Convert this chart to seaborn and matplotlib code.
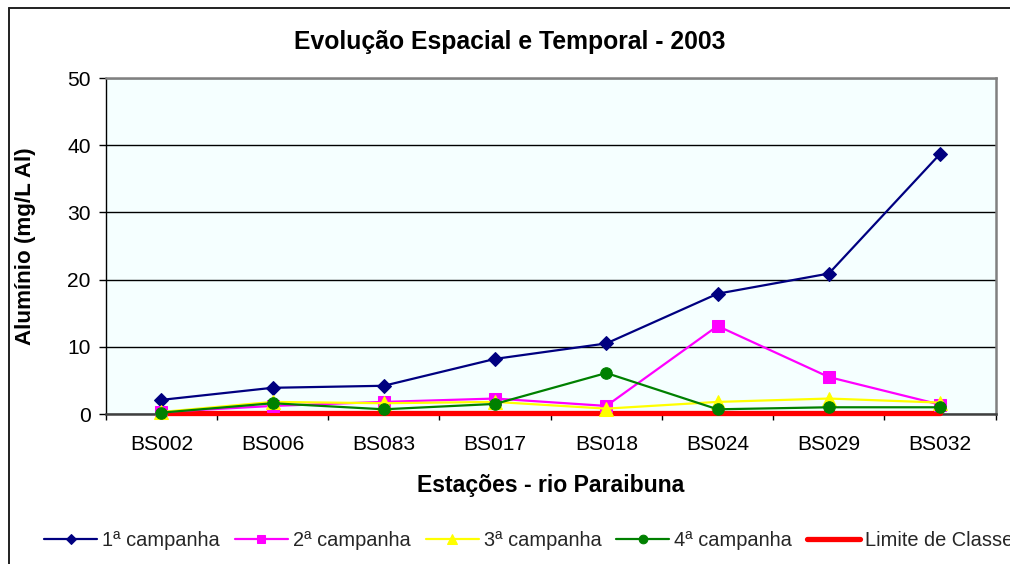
import numpy as np
import pandas as pd
import matplotlib
matplotlib.use("Agg")
import matplotlib.pyplot as plt
from matplotlib.lines import Line2D
import seaborn as sns

# Estações de amostragem ao longo do rio Paraibuna
estacoes = ["BS002", "BS006", "BS083", "BS017", "BS018", "BS024", "BS029", "BS032"]

# Alumínio (mg/L Al) por campanha
campanha_1 = [2.1, 3.9, 4.2, 8.2, 10.5, 17.9, 20.9, 38.7]
campanha_2 = [0.3, 1.2, 1.8, 2.3, 1.2, 13.1, 5.5, 1.4]
campanha_3 = [0.3, 1.8, 1.6, 1.8, 0.8, 1.8, 2.3, 1.7]
campanha_4 = [0.2, 1.6, 0.7, 1.5, 6.1, 0.7, 1.0, 1.0]
limite_classe = [0.1] * len(estacoes)

series_nomes = ["1ª campanha", "2ª campanha", "3ª campanha", "4ª campanha", "Limite de Classe"]
series_valores = [campanha_1, campanha_2, campanha_3, campanha_4, limite_classe]

sns.set_theme(style="white")
plt.rcParams["font.family"] = ["Liberation Sans", "DejaVu Sans"]

pos = np.arange(len(estacoes))
df = pd.concat(
    [pd.DataFrame({"pos": pos, "estacao": estacoes, "valor": v, "serie": n})
     for n, v in zip(series_nomes, series_valores)],
    ignore_index=True,
)

estilos = {
    "1ª campanha": dict(color="#000080", marker="D", markersize=6.8, linewidth=1.6, zorder=3.0),
    "2ª campanha": dict(color="#FF00FF", marker="s", markersize=8, linewidth=1.6, zorder=3.1),
    "3ª campanha": dict(color="#FFFF00", marker="^", markersize=9.5, linewidth=1.6, zorder=3.2),
    "4ª campanha": dict(color="#008000", marker="o", markersize=8.3, linewidth=1.6, zorder=3.3),
    "Limite de Classe": dict(color="#FF0000", marker=None, markersize=0, linewidth=3.8, zorder=2.8),
}

fig = plt.figure(figsize=(10.1, 5.64), dpi=100)
ax = fig.add_axes([105.7 / 1010, 1 - 414 / 564, 890 / 1010, 336 / 564])
ax.set_facecolor("#F5FFFF")

for nome in series_nomes:
    st = estilos[nome]
    sub = df[df["serie"] == nome]
    sns.lineplot(
        data=sub, x="pos", y="valor", ax=ax, sort=False, label=nome,
        color=st["color"], linewidth=st["linewidth"],
        marker=st["marker"], markersize=st["markersize"],
        markeredgecolor=st["color"], markerfacecolor=st["color"],
        zorder=st["zorder"], clip_on=False, legend=False,
    )

ax.set_xlim(-0.5, len(estacoes) - 0.5)
ax.set_ylim(0, 50)
ax.set_yticks(np.arange(0, 51, 10))
ax.set_xticks(pos)
ax.set_xticklabels(estacoes)
ax.set_xticks(np.arange(-0.5, len(estacoes)), minor=True)
ax.tick_params(axis="x", which="major", length=0, pad=15, labelsize=15.1, colors="black")
ax.tick_params(axis="x", which="minor", length=4.5, width=1, color="black", direction="out", bottom=True)
ax.tick_params(axis="y", which="major", length=4.7, width=1, color="black", direction="out",
               left=True, pad=6, labelsize=15.1, labelcolor="black")

ax.yaxis.grid(True, color="black", linewidth=1)
ax.xaxis.grid(False)
ax.set_axisbelow(True)

for lado in ["top", "right"]:
    ax.spines[lado].set_color("#808080")
    ax.spines[lado].set_linewidth(1.8)
ax.spines["left"].set_color("black")
ax.spines["left"].set_linewidth(1)
ax.spines["bottom"].set_color("#404040")
ax.spines["bottom"].set_linewidth(1.8)

ax.set_xlabel("Estações - rio Paraibuna", fontsize=16.6, fontweight="bold", color="black")
ax.xaxis.set_label_coords(0.5, -0.18)
ax.set_ylabel("Alumínio (mg/L Al)", fontsize=16.1, fontweight="bold", color="black")
ax.yaxis.set_label_coords(-0.0783, 0.5)

fig.text(510 / 1010, 1 - 42 / 564, "Evolução Espacial e Temporal - 2003",
         ha="center", va="center", fontsize=17.8, fontweight="bold", color="black")

# moldura externa do gráfico (lados superior e esquerdo)
topo = 1 - 7.5 / 564
esq = 8.5 / 1010
fig.add_artist(Line2D([esq, 1.0], [topo, topo], transform=fig.transFigure,
                      color="#202020", linewidth=1.4))
fig.add_artist(Line2D([esq, esq], [0.0, topo], transform=fig.transFigure,
                      color="#202020", linewidth=1.4))

handles, labels = ax.get_legend_handles_labels()
ordem = [labels.index(n) for n in series_nomes]
fig.legend([handles[i] for i in ordem], [labels[i] for i in ordem],
           loc="center left", bbox_to_anchor=(44 / 1010, 1 - 540 / 564),
           ncol=5, frameon=False, fontsize=14.4, borderpad=0, borderaxespad=0,
           handlelength=2.65, handletextpad=0.25, columnspacing=0.75, markerscale=0.75)

fig.savefig("out.png", dpi=100)
